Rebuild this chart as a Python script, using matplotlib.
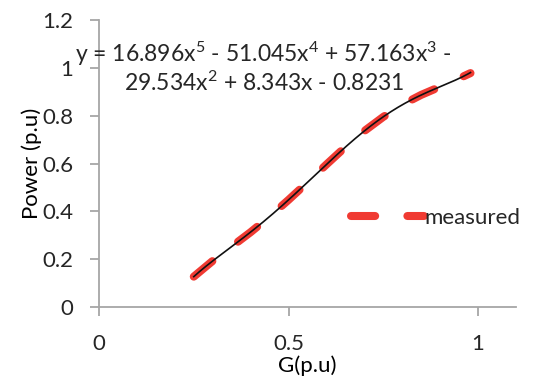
import numpy as np
import matplotlib as mpl
mpl.use("Agg")
import matplotlib.pyplot as plt
from matplotlib.ticker import FuncFormatter

# measured power curve, G vs P (per unit)
G = [0.25, 0.30, 0.35, 0.40, 0.45, 0.50, 0.55, 0.60, 0.65, 0.70, 0.75, 0.80, 0.85, 0.90, 0.95, 0.98]
P = [0.127, 0.193, 0.253, 0.313, 0.378, 0.448, 0.521, 0.596, 0.669, 0.736, 0.795, 0.846, 0.887, 0.921, 0.956, 0.978]
# 5th order trendline coefficients (highest power first)
COEF = [16.896, -51.045, 57.163, -29.534, 8.343, -0.8231]
EQ_TEXT = "y = 16.896x$^5$ - 51.045x$^4$ + 57.163x$^3$ -\n29.534x$^2$ + 8.343x - 0.8231"

AX_GREY = "#a6a6a6"
TXT = "#262626"
FS = 16
plt.rcParams.update({"font.family": ["Lato", "DejaVu Sans"], "font.size": FS,
                     "mathtext.default": "regular", "text.color": TXT})

fig = plt.figure(figsize=(5.39, 3.78), dpi=100)
ax = fig.add_axes([0.1837, 0.1878, 0.7736, 0.7593])

ax.plot(G, P, color="#f03a32", lw=5.8, dashes=(3, 4), dash_capstyle="round",
        solid_capstyle="round", label="measured", zorder=2)
xf = np.linspace(G[0], G[-1], 200)
ax.plot(xf, np.polyval(COEF, xf), color="#111111", lw=1.2, zorder=3)

ax.set_xlim(0, 1.1); ax.set_ylim(0, 1.2)
ax.set_xticks([0, 0.5, 1]); ax.set_yticks(np.arange(0, 1.21, 0.2))
fmt = FuncFormatter(lambda v, _: f"{v:g}")
ax.xaxis.set_major_formatter(fmt); ax.yaxis.set_major_formatter(fmt)
for s in ("top", "right"): ax.spines[s].set_visible(False)
for s in ("left", "bottom"):
    ax.spines[s].set_color(AX_GREY); ax.spines[s].set_linewidth(1.3)
ax.tick_params(axis="both", colors=AX_GREY, labelcolor=TXT, width=1.3, length=6.5, labelsize=FS)
ax.tick_params(axis="x", pad=13)
ax.tick_params(axis="y", pad=12)

ax.set_xlabel("G(p.u)", fontsize=FS, labelpad=1)
ax.set_ylabel("Power (p.u)", fontsize=FS, labelpad=0)

ax.text(0.395, 0.93, EQ_TEXT, transform=ax.transAxes, ha="center", va="top",
        fontsize=16.5, linespacing=1.12)

ax.legend(loc="center left", bbox_to_anchor=(0.556, 0.31), frameon=False, handlelength=3.3,
          handletextpad=0.0, fontsize=FS)

fig.savefig("out.png", dpi=100)
